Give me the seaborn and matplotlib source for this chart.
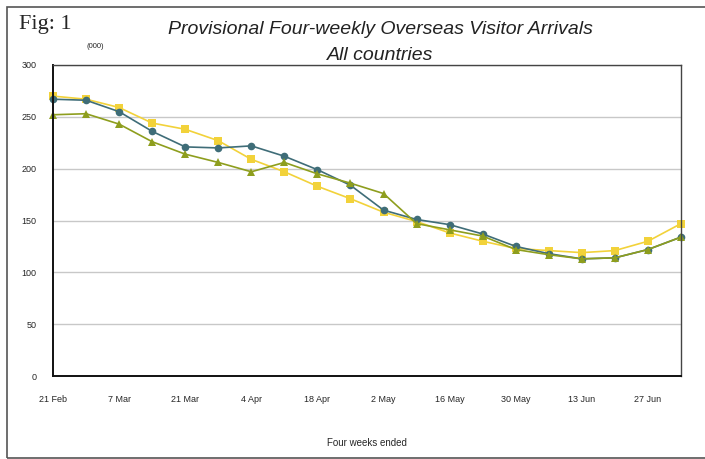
import matplotlib
matplotlib.use("Agg")
import matplotlib.pyplot as plt
import numpy as np
import pandas as pd
import seaborn as sns

sns.set_theme(style="white")
plt.rcParams['font.family'] = ['Liberation Sans', 'DejaVu Sans']

# weekly points, labelled every two weeks
weeks = ["21 Feb", "28 Feb", "7 Mar", "14 Mar", "21 Mar", "28 Mar", "4 Apr", "11 Apr",
         "18 Apr", "25 Apr", "2 May", "9 May", "16 May", "23 May", "30 May", "6 Jun",
         "13 Jun", "20 Jun", "27 Jun", "4 Jul"]
tick_labels = weeks[::2]

series_a = [270, 267, 259, 244, 238, 227, 209, 197, 183, 171,
            158, 149, 138, 130, 123, 121, 119, 121, 130, 147]   # yellow squares
series_b = [267, 266, 255, 236, 221, 220, 222, 212, 199, 184,
            160, 151, 146, 137, 125, 118, 113, 114, 122, 134]   # teal circles
series_c = [252, 253, 243, 226, 214, 206, 197, 206, 195, 186,
            176, 147, 141, 135, 122, 117, 113, 114, 122, 134]   # olive triangles

names = ["A", "B", "C"]
colors = {"A": "#F2D23A", "B": "#3F6D78", "C": "#8E9E1E"}
markers = {"A": "s", "B": "o", "C": "^"}

df = pd.DataFrame({
    "week": np.tile(np.arange(len(weeks)), 3),
    "value": series_a + series_b + series_c,
    "series": np.repeat(names, len(weeks)),
})

fig = plt.figure(figsize=(7.05, 4.59), dpi=100)
ax = fig.add_axes([53 / 705, 1 - 376 / 459, 628 / 705, 311 / 459])

sns.lineplot(data=df, x="week", y="value", hue="series", style="series",
             palette=colors, markers=markers, dashes=False, markersize=5.5,
             markeredgewidth=0, linewidth=1.2, legend=False, ax=ax)
for line in ax.lines:
    line.set_clip_on(False)

ax.set_xlim(0, len(weeks) - 1)
ax.set_ylim(0, 300)
ax.set_yticks(np.arange(0, 301, 50))
ax.set_yticklabels([str(v) for v in range(0, 301, 50)], fontsize=6.5)
ax.set_xticks(np.arange(0, len(weeks), 2))
ax.set_xticklabels(tick_labels, fontsize=6.5)
ax.tick_params(axis="x", direction="in", length=4, width=0.8, color="#222222", pad=14)
ax.tick_params(axis="y", length=0, pad=12)
ax.yaxis.grid(True, color="#C8C8C8", linewidth=1.0)
ax.set_axisbelow(True)
ax.set_xlabel("Four weeks ended", fontsize=7, labelpad=24)
ax.set_ylabel("")
for side in ["left", "bottom"]:
    ax.spines[side].set_color("#111111")
    ax.spines[side].set_linewidth(1.4)
for side in ["top", "right"]:
    ax.spines[side].set_color("#444444")
    ax.spines[side].set_linewidth(1.0)

fig.text(95 / 705, 1 - 47 / 459, "(000)", fontsize=5.5, ha="center", va="center")
fig.text(19 / 705, 1 - 25 / 459, "Fig: 1", fontsize=16, ha="left", va="center",
         family=["Liberation Serif", "DejaVu Serif"])
fig.text(380 / 705, 1 - 30 / 459, "Provisional Four-weekly Overseas Visitor Arrivals",
         fontsize=14, style="italic", ha="center", va="center", color="#222222")
fig.text(380 / 705, 1 - 56 / 459, "All countries",
         fontsize=14, style="italic", ha="center", va="center", color="#222222")

# outer frame around the figure
frame = plt.Rectangle((7 / 705, 1 - 458 / 459), 1.2, 451 / 459, transform=fig.transFigure,
                      fill=False, edgecolor="#555555", linewidth=1.2)
fig.patches.append(frame)

fig.savefig("out.png", dpi=100)
